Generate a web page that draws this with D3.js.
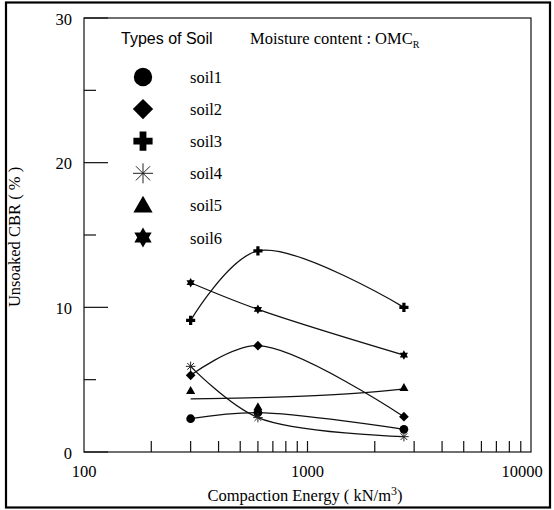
<!DOCTYPE html>
<html>
<head>
<meta charset="utf-8">
<script src="https://cdn.jsdelivr.net/npm/d3@7"></script>
<style>
  html, body { margin: 0; padding: 0; background: #fff; }
  svg { display: block; }
</style>
</head>
<body>
<svg id="chart" width="554" height="510"></svg>
<script>
// Compaction energies (kN/m^3) at which CBR was measured
const energies = [300, 600, 2700];

// Unsoaked CBR (%) for each soil
const soilNames = ["soil1", "soil2", "soil3", "soil4", "soil5", "soil6"];
const soil1 = [2.3, 2.72, 1.57];
const soil2 = [5.3, 7.35, 2.44];
const soil3 = [9.1, 13.9, 10.0];
const soil4 = [5.92, 2.38, 1.06];
const soil5 = [4.24, 3.12, 4.45];
const soil6 = [11.7, 9.86, 6.7];
const soilValues = [soil1, soil2, soil3, soil4, soil5, soil6];

// Axis ticks
const yMajorTicks = [0, 10, 20, 30];
const yMinorTicks = [5, 15, 25];
const xLabelTicks = [100, 1000, 10000];

const SERIF = "'Liberation Serif', 'Times New Roman', Times, serif";
const SANS = "'Liberation Sans', Arial, Helvetica, sans-serif";

const svg = d3.select("#chart");

// outer frame
svg.append("rect")
  .attr("x", 6).attr("y", 2.5).attr("width", 544).attr("height", 505)
  .attr("fill", "none").attr("stroke", "#000").attr("stroke-width", 2.2);

const plotL = 84, plotR = 531, plotT = 18, plotB = 452;
const x = d3.scaleLog().domain([100, 10000]).range([plotL, plotR]);
const y = d3.scaleLinear().domain([0, 30]).range([plotB, plotT]);

// plot box
svg.append("rect")
  .attr("x", plotL).attr("y", plotT).attr("width", plotR - plotL).attr("height", plotB - plotT)
  .attr("fill", "none").attr("stroke", "#111").attr("stroke-width", 1.2);

// y axis ticks (inward)
const gy = svg.append("g");
gy.selectAll("line.maj").data(yMajorTicks).join("line")
  .attr("class", "maj")
  .attr("x1", plotL).attr("x2", plotL + 24)
  .attr("y1", d => y(d)).attr("y2", d => y(d))
  .attr("stroke", "#111").attr("stroke-width", 1.2);
gy.selectAll("line.min").data(yMinorTicks).join("line")
  .attr("class", "min")
  .attr("x1", plotL).attr("x2", plotL + 12)
  .attr("y1", d => y(d)).attr("y2", d => y(d))
  .attr("stroke", "#111").attr("stroke-width", 1.2);
gy.selectAll("text").data(yMajorTicks).join("text")
  .attr("font-family", SERIF)
  .attr("x", 72).attr("y", d => y(d) + 6.5)
  .attr("text-anchor", "end")
  .attr("font-size", 16.5)
  .text(d => d);

// x axis ticks (inward, all minor log ticks)
const xTicks = x.ticks().filter(d => d > 100 && d < 10000);
const gx = svg.append("g");
gx.selectAll("line").data(xTicks).join("line")
  .attr("x1", d => x(d)).attr("x2", d => x(d))
  .attr("y1", plotB).attr("y2", plotB - 11)
  .attr("stroke", "#111").attr("stroke-width", 1.2);
gx.selectAll("text").data(xLabelTicks).join("text")
  .attr("font-family", SERIF)
  .attr("x", d => x(d) + (d === 10000 ? -9 : 0))
  .attr("y", 477)
  .attr("text-anchor", "middle")
  .attr("font-size", 16.5)
  .text(d => d);

// axis titles
const xTitle = svg.append("text")
  .attr("font-family", SERIF)
  .attr("x", 305).attr("y", 501)
  .attr("text-anchor", "middle")
  .attr("font-size", 16.5);
xTitle.append("tspan").text("Compaction Energy ( kN/m");
xTitle.append("tspan").attr("dy", -6).attr("font-size", 12).text("3");
xTitle.append("tspan").attr("dy", 6).text(")");

svg.append("text")
  .attr("font-family", SERIF)
  .attr("transform", "translate(20,237) rotate(-90)")
  .attr("text-anchor", "middle")
  .attr("font-size", 16.5)
  .text("Unsoaked CBR ( % )");

// symbol shapes
function hexagram(r) {
  const p = [];
  for (let i = 0; i < 12; i++) {
    const a = -Math.PI / 2 + i * Math.PI / 6;
    const rr = i % 2 === 0 ? r : r * 0.577;
    p.push([rr * Math.cos(a), rr * Math.sin(a)]);
  }
  return "M" + p.map(q => q.join(",")).join("L") + "Z";
}
function asterisk(r) {
  const d = r * 0.7071;
  return `M0,${-r}L0,${r}M${-r},0L${r},0M${-d},${-d}L${d},${d}M${-d},${d}L${d},${-d}`;
}
function drawSymbol(g, i, cx, cy, s) {
  if (i === 0) {
    g.append("circle").attr("cx", cx).attr("cy", cy).attr("r", 4.6 * s).attr("fill", "#000");
  } else if (i === 1) {
    g.append("path").attr("transform", `translate(${cx},${cy}) rotate(45)`)
      .attr("d", `M${-3.6*s},${-3.6*s}h${7.2*s}v${7.2*s}h${-7.2*s}Z`).attr("fill", "#000");
  } else if (i === 2) {
    const a = 4.8 * s, b = 1.7 * s;
    g.append("path").attr("transform", `translate(${cx},${cy})`)
      .attr("d", `M${-b},${-a}H${b}V${-b}H${a}V${b}H${b}V${a}H${-b}V${b}H${-a}V${-b}H${-b}Z`)
      .attr("fill", "#000");
  } else if (i === 3) {
    g.append("path").attr("transform", `translate(${cx},${cy})`)
      .attr("d", asterisk(5 * s)).attr("fill", "none").attr("stroke", "#222").attr("stroke-width", 1);
  } else if (i === 4) {
    const h = 4.8 * s;
    g.append("path").attr("transform", `translate(${cx},${cy})`)
      .attr("d", `M0,${-h}L${h},${h * 0.75}L${-h},${h * 0.75}Z`).attr("fill", "#000");
  } else {
    g.append("path").attr("transform", `translate(${cx},${cy})`)
      .attr("d", hexagram(5 * s)).attr("fill", "#000");
  }
}

// legend
svg.append("text").attr("font-family", SANS)
  .attr("x", 121).attr("y", 44).attr("font-size", 16).text("Types of Soil");
const mc = svg.append("text").attr("font-family", SERIF)
  .attr("x", 250).attr("y", 44).attr("font-size", 16.5);
mc.append("tspan").text("Moisture content : OMC");
mc.append("tspan").attr("dy", 4).attr("font-size", 10).text("R");

const legend = svg.append("g");
soilNames.forEach((name, i) => {
  const cy = 77 + i * 32.1;
  drawSymbol(legend, i, 143, cy, 2.0);
  legend.append("text").attr("font-family", SERIF)
    .attr("x", 190).attr("y", cy + 6).attr("font-size", 16.5).text(name);
});

// fitted curves
const curves = svg.append("g").attr("fill", "none").attr("stroke", "#111").attr("stroke-width", 1.3);
const smooth = d3.line().x(d => x(d[0])).y(d => y(d[1])).curve(d3.curveCatmullRom.alpha(0.5));
soilValues.forEach((vals, i) => {
  if (i === 4) return;
  curves.append("path").attr("d", smooth(energies.map((e, k) => [e, vals[k]])));
});
// soil5: least-squares straight line against energy
{
  const n = energies.length;
  const mx = d3.mean(energies), my = d3.mean(soil5);
  const sxy = d3.sum(energies, (e, k) => (e - mx) * (soil5[k] - my));
  const sxx = d3.sum(energies, e => (e - mx) * (e - mx));
  const slope = sxy / sxx, icpt = my - slope * mx;
  const xs = d3.range(0, 41).map(t => energies[0] + (energies[n - 1] - energies[0]) * t / 40);
  const lin = d3.line().x(d => x(d)).y(d => y(icpt + slope * d));
  curves.append("path").attr("d", lin(xs));
}

// data points
const pts = svg.append("g");
soilValues.forEach((vals, i) => {
  vals.forEach((v, k) => drawSymbol(pts, i, x(energies[k]), y(v), 0.95));
});
</script>
</body>
</html>
